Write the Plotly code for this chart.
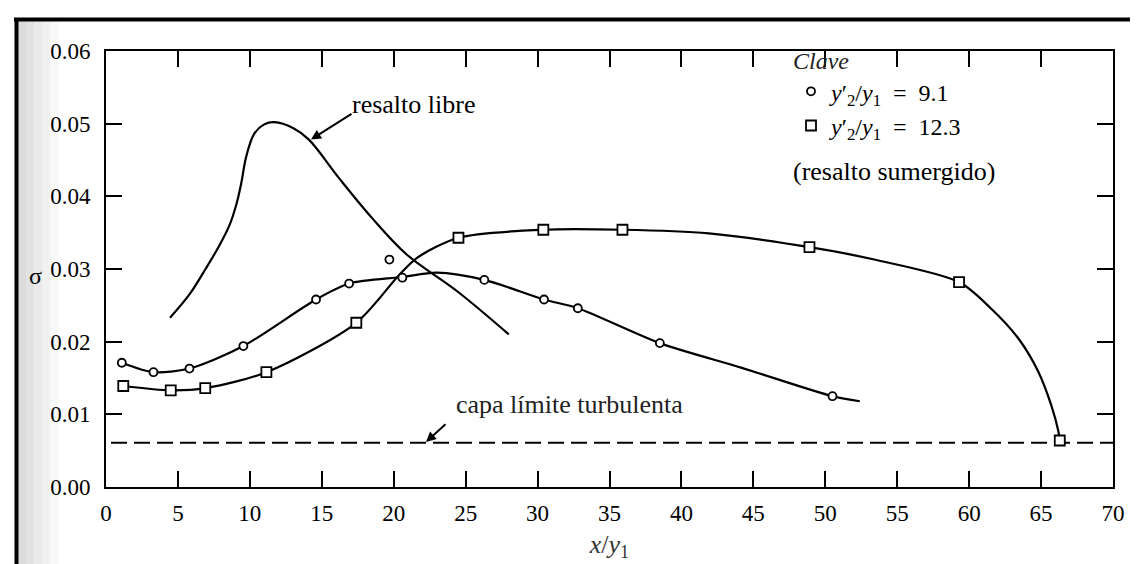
import plotly.graph_objects as go

# ---------------- data ----------------
# free jump curve ("resalto libre")
free_x = [4.45, 5.8, 6.95, 7.9, 8.6, 9.05, 9.4, 9.75, 10.3, 11.0, 11.7, 13.0, 14.1,
          16.2, 18.5, 20.9, 24.5, 28.0]
free_y = [0.0233, 0.0265, 0.0301, 0.0333, 0.0361, 0.0388, 0.0418, 0.0455, 0.0486, 0.0499,
          0.0502, 0.0494, 0.0478, 0.0425, 0.0370, 0.0320, 0.0268, 0.0210]

# y2'/y1 = 9.1 (circles)
c91_x = [1.1, 3.3, 5.8, 9.55, 14.6, 16.9, 19.7, 20.6, 26.3, 30.45, 32.8, 38.5, 50.5]
c91_y = [0.0171, 0.0158, 0.0163, 0.0194, 0.0258, 0.0280, 0.0313, 0.0288, 0.0285, 0.0258,
         0.0246, 0.0198, 0.0125]
c91_curve_x = [1.1, 3.3, 5.8, 9.55, 14.6, 16.9, 20.6, 23.0, 26.3, 30.45, 32.8, 38.5, 44.2, 50.5, 52.4]
c91_curve_y = [0.0171, 0.0158, 0.0163, 0.0194, 0.0258, 0.0280, 0.0289, 0.0295, 0.0285, 0.0258,
               0.0246, 0.0198, 0.0164, 0.0125, 0.0118]

# y2'/y1 = 12.3 (squares)
s123_x = [1.2, 4.5, 6.9, 11.15, 17.4, 24.5, 30.4, 35.9, 48.9, 59.3, 66.3]
s123_y = [0.0139, 0.0133, 0.0136, 0.0158, 0.0226, 0.0343, 0.0354, 0.0354, 0.0330, 0.0282, 0.0064]
s123_curve_x = [1.2, 4.5, 6.9, 11.15, 17.4, 20.3, 21.6, 24.5, 30.4, 35.9, 41.9, 48.9, 53.4,
                59.3, 61.5, 63.4, 64.8, 65.7, 66.2, 66.3]
s123_curve_y = [0.0139, 0.0133, 0.0136, 0.0158, 0.0226, 0.0290, 0.0315, 0.0343, 0.0354, 0.0354,
                0.0349, 0.0330, 0.0313, 0.0282, 0.0246, 0.0205, 0.0159, 0.0113, 0.0077, 0.0064]

# turbulent boundary layer ("capa límite turbulenta")
bl_x = [0.35, 70.0]
bl_y = [0.0061, 0.0061]

x_ticks = list(range(0, 75, 5))
y_ticks = [0.00, 0.01, 0.02, 0.03, 0.04, 0.05, 0.06]

# ---------------- layout helpers ----------------
W, H = 1138, 564
L, R, T, B = 98, 33, 43, 85
PW, PH = W - L - R, H - T - B
FONT = "Liberation Serif"


def pxx(p):
    return (p - L) / PW


def pxy(p):
    return (H - B - p) / PH


fig = go.Figure()

fig.add_trace(go.Scatter(x=bl_x, y=bl_y, mode="lines", showlegend=False, hoverinfo="skip",
                         line=dict(color="black", width=2, dash="16px,7px")))
fig.add_trace(go.Scatter(x=free_x, y=free_y, mode="lines", showlegend=False, hoverinfo="skip",
                         line=dict(color="black", width=2.2, shape="spline", smoothing=1.0)))
fig.add_trace(go.Scatter(x=c91_curve_x, y=c91_curve_y, mode="lines", showlegend=False,
                         hoverinfo="skip",
                         line=dict(color="black", width=2.2, shape="spline", smoothing=0.8)))
fig.add_trace(go.Scatter(x=s123_curve_x, y=s123_curve_y, mode="lines", showlegend=False,
                         hoverinfo="skip",
                         line=dict(color="black", width=2.2, shape="spline", smoothing=0.8)))
fig.add_trace(go.Scatter(x=c91_x, y=c91_y, mode="markers",
                         name="<i>y</i>′<sub>2</sub>/<i>y</i><sub>1</sub>  =  9.1",
                         marker=dict(symbol="circle", size=8, color="white",
                                     line=dict(color="black", width=1.8))))
fig.add_trace(go.Scatter(x=s123_x, y=s123_y, mode="markers",
                         name="<i>y</i>′<sub>2</sub>/<i>y</i><sub>1</sub>  =  12.3",
                         marker=dict(symbol="square", size=10, color="white",
                                     line=dict(color="black", width=1.8))))

axis_common = dict(showgrid=False, zeroline=False, showline=True, linecolor="black",
                   linewidth=2, mirror="ticks", ticks="inside", ticklen=16, tickwidth=2,
                   tickcolor="black", tickfont=dict(family=FONT, size=23, color="black"))

fig.update_xaxes(range=[0, 70], tickvals=x_ticks, ticklabelstandoff=4,
                 title=dict(text="<i>x</i>/<i>y</i><sub>1</sub>", standoff=10,
                            font=dict(family=FONT, size=26, color="#333")),
                 **axis_common)
fig.update_yaxes(range=[0, 0.06], tickvals=y_ticks, tickformat=".2f", ticklabelstandoff=9,
                 **axis_common)


def label(text, x, y, size=26, color="black"):
    return dict(text=text, x=pxx(x), y=pxy(y), xref="paper", yref="paper",
                xanchor="center", yanchor="middle", showarrow=False,
                font=dict(family=FONT, size=size, color=color))


def arrow(hx, hy, tx, ty):
    return dict(text="", x=pxx(hx), y=pxy(hy), xref="paper", yref="paper", showarrow=True,
                ax=tx - hx, ay=ty - hy, arrowhead=2, arrowsize=1, arrowwidth=2,
                arrowcolor="black")


annotations = [
    label("resalto libre", 405, 96),
    arrow(303, 131.5, 345, 105),
    label("capa límite turbulenta", 561, 396, color="#222"),
    arrow(418, 434, 439, 415),
    label("(resalto sumergido)", 886, 163),
    label("σ", 27, 268, size=24),
]

shapes = []
# scanned-page shading on the left edge
for i, (a, b) in enumerate([(10, 18), (18, 26), (26, 34), (34, 42), (42, 50)]):
    shapes.append(dict(type="rect", xref="paper", yref="paper", x0=pxx(a), x1=pxx(b),
                       y0=pxy(564), y1=pxy(12), line=dict(width=0),
                       fillcolor="rgba(190,190,190,%.2f)" % (0.55 - i * 0.11), layer="below"))
# page frame
shapes.append(dict(type="line", xref="paper", yref="paper", x0=pxx(6), x1=pxx(1138),
                   y0=pxy(11.5), y1=pxy(11.5), line=dict(color="black", width=4)))
shapes.append(dict(type="line", xref="paper", yref="paper", x0=pxx(8.5), x1=pxx(8.5),
                   y0=pxy(10), y1=pxy(564), line=dict(color="black", width=4)))

fig.update_layout(
    width=W, height=H, margin=dict(l=L, r=R, t=T, b=B),
    paper_bgcolor="white", plot_bgcolor="white",
    font=dict(family=FONT, color="black"),
    showlegend=True,
    legend=dict(x=pxx(783), y=pxy(30), xanchor="left", yanchor="top",
                bgcolor="rgba(0,0,0,0)", borderwidth=0,
                font=dict(family=FONT, size=24, color="black"),
                title=dict(text="<i>Clave</i>", font=dict(family=FONT, size=24, color="#222")),
                itemwidth=30, tracegroupgap=6),
    annotations=annotations,
    shapes=shapes,
)

fig.write_html("out.html")
